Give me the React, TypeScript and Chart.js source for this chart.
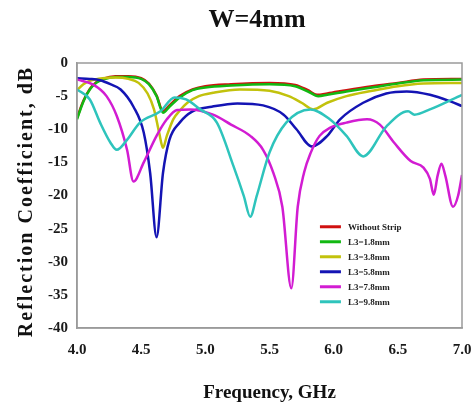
import React, { useEffect, useRef } from "react";
import { Chart, registerables } from "chart.js";

Chart.register(...registerables);

const CHART_TITLE = "W=4mm";
const X_TITLE = "Frequency, GHz";
const Y_TITLE = "Reflection Coefficient, dB";
const X_TICKS = [4.0, 4.5, 5.0, 5.5, 6.0, 6.5, 7.0];
const Y_TICKS = [0, -5, -10, -15, -20, -25, -30, -35, -40];

const SERIES_LABELS = ["Without Strip", "L3=1.8mm", "L3=3.8mm", "L3=5.8mm", "L3=7.8mm", "L3=9.8mm"];
const SERIES_COLORS = ["#d01010", "#12b812", "#c2c20c", "#1414b4", "#d21cd2", "#2ec4bc"];

const freqNoStrip = [4.0, 4.05, 4.1, 4.15, 4.2, 4.3, 4.4, 4.5, 4.56, 4.62, 4.67, 4.72, 4.8, 4.9, 5.0, 5.2, 5.5, 5.7, 5.8, 5.87, 5.95, 6.1, 6.3, 6.5, 6.7, 7.0];
const valNoStrip = [-8.3, -5.7, -3.9, -2.9, -2.4, -2.0, -2.0, -2.3, -3.1, -4.9, -7.3, -6.4, -5.0, -4.0, -3.5, -3.2, -3.0, -3.3, -4.1, -4.8, -4.6, -4.1, -3.5, -3.0, -2.5, -2.4];

const freqL18 = [4.0, 4.05, 4.1, 4.15, 4.2, 4.3, 4.4, 4.5, 4.56, 4.62, 4.67, 4.72, 4.8, 4.9, 5.0, 5.2, 5.5, 5.7, 5.8, 5.88, 5.95, 6.1, 6.3, 6.5, 6.7, 7.0];
const valL18 = [-8.5, -5.8, -4.0, -3.0, -2.5, -2.1, -2.1, -2.4, -3.2, -5.0, -7.5, -6.6, -5.2, -4.1, -3.7, -3.4, -3.2, -3.5, -4.3, -5.0, -4.8, -4.3, -3.7, -3.1, -2.6, -2.5];

const freqL38 = [4.0, 4.05, 4.1, 4.2, 4.3, 4.4, 4.48, 4.55, 4.6, 4.64, 4.67, 4.7, 4.75, 4.8, 4.86, 4.95, 5.06, 5.27, 5.5, 5.65, 5.75, 5.84, 5.95, 6.1, 6.3, 6.5, 6.7, 7.0];
const valL38 = [-4.1, -3.2, -2.7, -2.3, -2.2, -2.4, -3.0, -4.6, -7.0, -10.5, -12.8, -11.0, -8.5, -7.2, -6.0, -5.0, -4.5, -4.0, -4.2, -5.0, -6.0, -7.0, -6.0, -5.0, -4.2, -3.5, -3.1, -3.0];

const freqL58 = [4.0, 4.1, 4.18, 4.26, 4.34, 4.44, 4.52, 4.57, 4.62, 4.67, 4.72, 4.8, 4.9, 5.05, 5.25, 5.45, 5.61, 5.71, 5.83, 5.95, 6.05, 6.23, 6.41, 6.57, 6.75, 6.91, 7.0];
const valL58 = [-2.3, -2.4, -2.6, -3.2, -4.0, -6.6, -10.5, -16.6, -26.3, -16.6, -11.6, -9.0, -7.3, -6.6, -6.1, -6.4, -7.8, -10.0, -12.6, -11.0, -8.5, -6.0, -4.6, -4.3, -4.8, -5.8, -6.5];

const freqL78 = [4.0, 4.13, 4.23, 4.31, 4.39, 4.44, 4.52, 4.62, 4.7, 4.78, 4.88, 5.06, 5.2, 5.35, 5.45, 5.53, 5.6, 5.67, 5.72, 5.77, 5.82, 5.89, 5.97, 6.1, 6.26, 6.36, 6.47, 6.6, 6.7, 6.75, 6.78, 6.81, 6.84, 6.87, 6.93, 6.97, 7.0];
const valL78 = [-2.5, -3.3, -5.0, -8.0, -13.1, -17.9, -15.0, -11.0, -8.5, -7.1, -7.0, -7.8, -9.3, -11.0, -13.1, -16.6, -21.7, -34.0, -21.7, -16.5, -13.6, -11.0, -9.8, -9.0, -8.5, -9.3, -12.0, -14.8, -15.8, -17.5, -19.9, -17.0, -15.2, -17.0, -21.7, -20.0, -16.9];

const freqL98 = [4.0, 4.1, 4.18, 4.26, 4.31, 4.39, 4.49, 4.65, 4.76, 4.85, 4.96, 5.09, 5.22, 5.3, 5.35, 5.4, 5.5, 5.63, 5.82, 5.97, 6.1, 6.23, 6.41, 6.58, 6.63, 6.75, 7.0];
const valL98 = [-4.0, -5.5, -9.0, -12.0, -13.1, -11.6, -9.0, -7.3, -5.2, -5.5, -7.0, -9.0, -15.6, -20.1, -23.2, -20.1, -13.5, -9.0, -7.0, -8.5, -11.0, -14.1, -9.6, -7.3, -7.8, -7.0, -4.8];

const SERIES_FREQS = [freqNoStrip, freqL18, freqL38, freqL58, freqL78, freqL98];
const SERIES_VALUES = [valNoStrip, valL18, valL38, valL58, valL78, valL98];

const FONT = "'Liberation Serif', 'Times New Roman', serif";

const decorPlugin = {
  id: "decor",
  beforeDraw(chart: any) {
    const { ctx, width, height } = chart;
    ctx.save();
    ctx.fillStyle = "#ffffff";
    ctx.fillRect(0, 0, width, height);
    ctx.restore();
  },
  afterDraw(chart: any) {
    const { ctx, chartArea } = chart;
    const { left, right, top, bottom } = chartArea;
    ctx.save();
    // frame
    ctx.strokeStyle = "#9a9a9a";
    ctx.lineWidth = 1.5;
    ctx.strokeRect(left, top, right - left, bottom - top);

    // chart title
    ctx.fillStyle = "#111";
    ctx.font = `bold 26px ${FONT}`;
    ctx.textAlign = "center";
    ctx.textBaseline = "middle";
    ctx.fillText(CHART_TITLE, 257, 20);

    // y title
    ctx.save();
    ctx.translate(27, (top + bottom) / 2 + 6);
    ctx.rotate(-Math.PI / 2);
    ctx.font = `bold 20px ${FONT}`;
    (ctx as any).letterSpacing = "2px";
    ctx.fillText(Y_TITLE, 0, 0);
    ctx.restore();

    // legend
    const w = right - left;
    const h = bottom - top;
    const lx = left + w * 0.631;
    let ly = top + h * 0.618;
    ctx.font = `bold 9px ${FONT}`;
    ctx.textAlign = "left";
    ctx.textBaseline = "middle";
    chart.data.datasets.forEach((ds: any) => {
      ctx.strokeStyle = ds.borderColor;
      ctx.lineWidth = 3;
      ctx.beginPath();
      ctx.moveTo(lx, ly);
      ctx.lineTo(lx + 21, ly);
      ctx.stroke();
      ctx.fillStyle = "#222";
      ctx.fillText(ds.label, lx + 28, ly + 0.5);
      ly += 15;
    });
    ctx.restore();
  },
};

export default function App() {
  const canvasRef = useRef<HTMLCanvasElement | null>(null);

  useEffect(() => {
    document.body.style.margin = "0";
    const canvas = canvasRef.current;
    if (!canvas) return;
    const datasets = SERIES_LABELS.map((label, i) => ({
      label,
      data: SERIES_FREQS[i].map((f, j) => ({ x: f, y: SERIES_VALUES[i][j] })),
      borderColor: SERIES_COLORS[i],
      backgroundColor: SERIES_COLORS[i],
      borderWidth: 2.5,
      pointRadius: 0,
      fill: false,
      cubicInterpolationMode: "monotone" as const,
      order: SERIES_LABELS.length - i,
    }));
    const tickFont = { family: FONT, size: 15, weight: "bold" as const };
    const chart = new Chart(canvas, {
      type: "line",
      data: { datasets },
      options: {
        animation: false,
        responsive: false,
        maintainAspectRatio: false,
        layout: { padding: { top: 63, right: 12, left: 0, bottom: 0 } },
        plugins: {
          legend: { display: false },
          title: { display: false },
          tooltip: { enabled: false },
        },
        scales: {
          x: {
            type: "linear",
            min: X_TICKS[0],
            max: X_TICKS[X_TICKS.length - 1],
            afterBuildTicks: (scale: any) => {
              scale.ticks = X_TICKS.map((v) => ({ value: v }));
            },
            afterFit: (scale: any) => {
              scale.height = 80;
              scale.paddingLeft = 0;
              scale.paddingRight = 0;
            },
            grid: { display: false, drawTicks: false },
            border: { display: true, color: "#9a9a9a", width: 1.5 },
            ticks: {
              font: tickFont,
              color: "#1a1a1a",
              padding: 13,
              maxRotation: 0,
              callback: (v: any) => Number(v).toFixed(1),
            },
            title: {
              display: true,
              text: X_TITLE,
              font: { family: FONT, size: 19, weight: "bold" as const },
              color: "#111",
              padding: { top: 0, bottom: 4 },
            },
          },
          y: {
            type: "linear",
            min: Y_TICKS[Y_TICKS.length - 1],
            max: Y_TICKS[0],
            afterBuildTicks: (scale: any) => {
              scale.ticks = [...Y_TICKS].reverse().map((v) => ({ value: v }));
            },
            afterFit: (scale: any) => {
              scale.width = 77;
              scale.paddingTop = 0;
              scale.paddingBottom = 0;
            },
            grid: { display: false, drawTicks: false },
            border: { display: true, color: "#9a9a9a", width: 1.5 },
            ticks: {
              font: tickFont,
              color: "#1a1a1a",
              padding: 9,
              callback: (v: any) => String(v),
            },
          },
        },
      },
      plugins: [decorPlugin],
    });
    return () => chart.destroy();
  }, []);

  return (
    <div style={{ width: 474, height: 408 }}>
      <canvas ref={canvasRef} width={474} height={408} style={{ display: "block" }} />
    </div>
  );
}
